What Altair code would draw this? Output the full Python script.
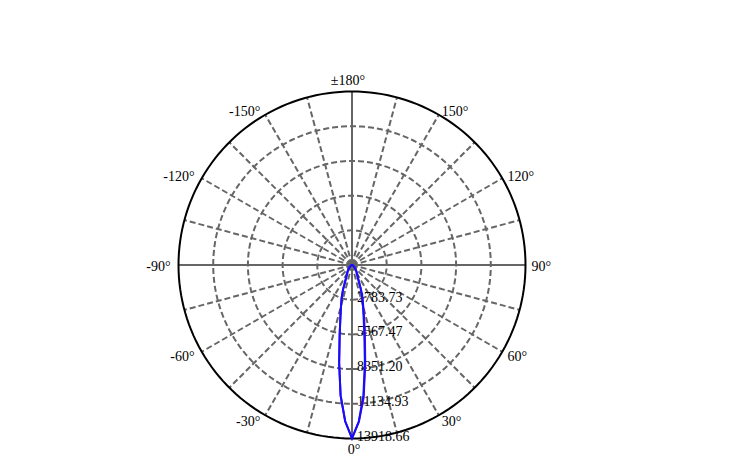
import altair as alt
import pandas as pd
import numpy as np

# ---- data ----
gamma = [0, 2.5, 5, 7.5, 10, 12.5, 15, 17.5, 20, 22.5, 25, 30, 35, 40, 50, 60, 70, 80, 90, 180]
c0_c180 = [13900, 12550, 10500, 7900, 5700, 4300, 3400, 2750, 2100, 1450, 1100, 800, 600, 450, 250, 120, 50, 20, 0, 0]
c90_c270 = [13900, 12600, 10700, 8150, 6000, 4550, 3550, 2800, 2100, 1450, 1100, 800, 600, 450, 250, 120, 50, 20, 0, 0]
ring_values = [2783.73, 5567.47, 8351.20, 11134.93, 13918.66]
ring_labels = ["2783.73", "5567.47", "8351.20", "11134.93", "13918.66"]
angle_ticks = [-150, -120, -90, -60, -30, 0, 30, 60, 90, 120, 150, 180]
angle_labels = ["-150°", "-120°", "-90°", "-60°", "-30°", "0°", "30°", "60°", "90°", "120°", "150°", "±180°"]
spoke_angles = list(range(0, 360, 15))

R = ring_values[-1]
W, H = 700, 450
k = R / 173.5
cx, cy = 344, 257
xdom = [-cx * k, (W - cx) * k]
ydom = [-(H - cy) * k, cy * k]
xs = alt.Scale(domain=xdom, nice=False, zero=False)
ys = alt.Scale(domain=ydom, nice=False, zero=False)


def polar(I, g):
    g = np.radians(g)
    return np.asarray(I) * np.sin(g), -np.asarray(I) * np.cos(g)


# curves: left half mirrors right half
def curve_df(vals_left, vals_right):
    g = [-a for a in gamma[::-1]] + gamma[1:]
    v = vals_left[::-1] + vals_right[1:]
    x, y = polar(v, g)
    return pd.DataFrame({"x": x, "y": y, "i": range(len(g))})

curve_blue = curve_df(c0_c180, c0_c180)
curve_purple = curve_df(c0_c180, c90_c270)

# rings
th = np.arange(0, 361, 2)
rings = []
for j, rv in enumerate(ring_values):
    x, y = polar([rv] * len(th), th)
    rings.append(pd.DataFrame({"x": x, "y": y, "i": range(len(th)), "ring": j}))
rings = pd.concat(rings)

# spokes
sx, sy = polar([R] * len(spoke_angles), spoke_angles)
spokes = pd.DataFrame({"x": 0.0, "y": 0.0, "x2": sx, "y2": sy, "a": spoke_angles})
spokes["solid"] = spokes["a"] % 90 == 0

# angle labels
lab_r = R + 6 * k
lx, ly = polar([lab_r] * len(angle_ticks), angle_ticks)
alab = pd.DataFrame({"x": lx, "y": ly, "t": angle_labels, "a": angle_ticks})

# ring labels
rlab = pd.DataFrame({"x": 0.0, "y": [-v for v in ring_values], "t": ring_labels})

FONT = "Liberation Serif"
enc = dict(x=alt.X("x:Q", scale=xs, axis=None), y=alt.Y("y:Q", scale=ys, axis=None))

ring_layer = alt.Chart(rings[rings.ring < 4]).mark_line(
    color="#666666", strokeWidth=2, strokeDash=[6, 3]
).encode(detail="ring:N", order="i:Q", **enc)
outer = alt.Chart(rings[rings.ring == 4]).mark_line(color="#000000", strokeWidth=2).encode(order="i:Q", **enc)

spoke_dash = alt.Chart(spokes[~spokes.solid]).mark_rule(
    color="#666666", strokeWidth=2, strokeDash=[6, 3]
).encode(x2="x2:Q", y2="y2:Q", **enc)
spoke_solid = alt.Chart(spokes[spokes.solid]).mark_rule(
    color="#666666", strokeWidth=2
).encode(x2="x2:Q", y2="y2:Q", **enc)

tstyle = dict(font=FONT, fontSize=14, color="#000000")
left_lab = alt.Chart(alab[alab.a < 0]).mark_text(align="right", baseline="middle", dx=-2, dy=2, **tstyle).encode(text="t:N", **enc)
right_lab = alt.Chart(alab[(alab.a > 0) & (alab.a < 180)]).mark_text(align="left", baseline="middle", dy=2, **tstyle).encode(text="t:N", **enc)
top_lab = alt.Chart(alab[alab.a == 180]).mark_text(align="center", baseline="bottom", dx=-4, dy=2, **tstyle).encode(text="t:N", **enc)
bot_lab = alt.Chart(alab[alab.a == 0]).mark_text(align="center", baseline="top", dx=2, dy=-2, **tstyle).encode(text="t:N", **enc)

ring_lab = alt.Chart(rlab).mark_text(align="left", baseline="middle", dx=5, dy=-2, **tstyle).encode(text="t:N", **enc)

purple = alt.Chart(curve_purple).mark_line(color="#7000d0", strokeWidth=2).encode(order="i:Q", **enc)
blue = alt.Chart(curve_blue).mark_line(color="#1010ff", strokeWidth=2).encode(order="i:Q", **enc)

chart = alt.layer(
    ring_layer, spoke_dash, spoke_solid, outer,
    left_lab, right_lab, top_lab, bot_lab, ring_lab,
    purple, blue,
).properties(
    width=W, height=H, padding=0, background="white",
    autosize=alt.AutoSizeParams(type="none")
).configure_view(stroke="transparent", strokeWidth=0)

chart.save("out.html", embed_options={"renderer": "svg", "actions": False})
